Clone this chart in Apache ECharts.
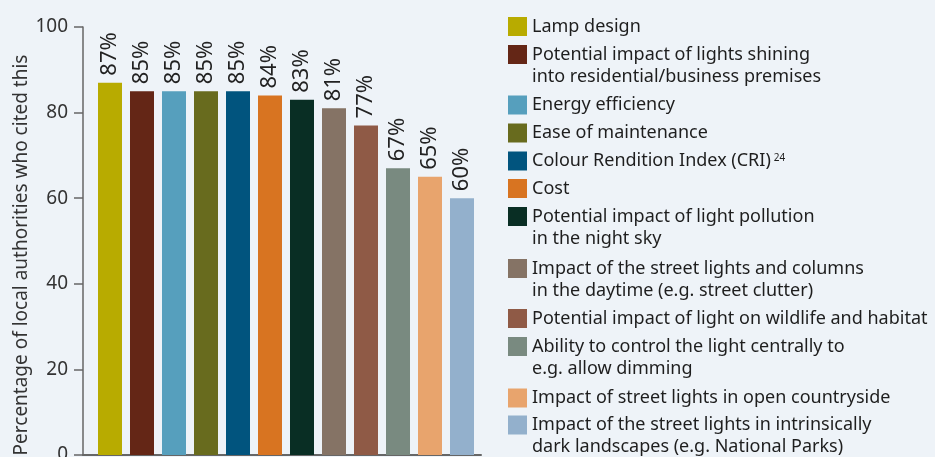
<!DOCTYPE html>
<html>
<head>
<meta charset="utf-8">
<script src="https://cdn.jsdelivr.net/npm/echarts@6/dist/echarts.min.js"></script>
<style>
  html, body { margin: 0; padding: 0; background: #eef3f8; }
  #chart { width: 935px; height: 457px; }
</style>
</head>
<body>
<div id="chart"></div>
<script>
// data
const categories = [
  'Lamp design',
  'Potential impact of lights shining\ninto residential/business premises',
  'Energy efficiency',
  'Ease of maintenance',
  'Colour Rendition Index (CRI)',
  'Cost',
  'Potential impact of light pollution\nin the night sky',
  'Impact of the street lights and columns\nin the daytime (e.g. street clutter)',
  'Potential impact of light on wildlife and habitat',
  'Ability to control the light centrally to\ne.g. allow dimming',
  'Impact of street lights in open countryside',
  'Impact of the street lights in intrinsically\ndark landscapes (e.g. National Parks)'
];
const values = [87, 85, 85, 85, 85, 84, 83, 81, 77, 67, 65, 60];
const footnotes = ['', '', '', '', '24', '', '', '', '', '', '', ''];
const yMin = 0, yMax = 100, yStep = 20;
const yTitle = 'Percentage of local authorities who cited this';

const colors = ['#b8ab00', '#642616', '#569fbd', '#686b1e', '#01547e', '#d87421',
                '#092e24', '#857365', '#8f5a46', '#798a80', '#e8a46d', '#93b0cc'];

const font = '"Noto Sans", sans-serif';
const chart = echarts.init(document.getElementById('chart'));

// vertical centre of each legend swatch
const legendCentres = [26.5, 54.5, 105, 133, 161, 188.5, 216.5, 268.5, 318.5, 346.5, 398, 425];

const legends = categories.map((name, i) => {
  const multi = name.indexOf('\n') >= 0;
  return {
    data: [name],
    orient: 'vertical',
    left: 508,
    top: legendCentres[i] - (multi ? 33 : 11),
    padding: 0,
    itemWidth: 19,
    itemHeight: 19,
    icon: 'rect',
    selectedMode: false,
    formatter: n => (multi ? '\n' : '') + n + (footnotes[i] ? '{sup|' + footnotes[i] + '}' : ''),
    textStyle: {
      fontFamily: font,
      fontSize: 18,
      color: '#1e1e1e',
      lineHeight: 22,
      rich: {
        sup: { fontFamily: font, fontSize: 10, color: '#1e1e1e', verticalAlign: 'top', lineHeight: 22, padding: [3, 0, 0, 3] }
      }
    }
  };
});

const series = categories.map((name, i) => ({
  type: 'bar',
  name: name,
  barWidth: 24,
  barGap: '-100%',
  itemStyle: { color: colors[i] },
  data: [[i, values[i]]],
  label: {
    show: true,
    position: 'top',
    rotate: 90,
    align: 'left',
    verticalAlign: 'middle',
    distance: 7,
    fontFamily: font,
    fontSize: 22,
    color: '#222',
    formatter: p => p.value[1] + '%'
  }
}));

const option = {
  backgroundColor: '#eef3f8',
  animation: false,
  legend: legends,
  grid: { left: 83, right: 454, top: 27, bottom: 2, outerBoundsMode: 'none', containLabel: false },
  xAxis: {
    type: 'value',
    min: -0.84375,
    max: 11.59375,
    axisLine: { show: true, lineStyle: { color: '#666', width: 2 } },
    axisTick: { show: false },
    axisLabel: { show: false },
    splitLine: { show: false }
  },
  yAxis: {
    type: 'value',
    min: yMin,
    max: yMax,
    interval: yStep,
    name: yTitle,
    nameLocation: 'middle',
    nameGap: 52,
    nameTextStyle: { fontFamily: font, fontSize: 19, color: '#333', padding: [0, 28, 0, 0] },
    axisLine: { show: true, onZero: false, lineStyle: { color: '#666', width: 1.5 } },
    axisTick: { show: true, length: 9, lineStyle: { color: '#666', width: 1.5 } },
    axisLabel: { fontFamily: font, fontSize: 19, color: '#333', margin: 15 },
    splitLine: { show: false }
  },
  series: series
};

chart.setOption(option);
window.addEventListener('resize', () => chart.resize());
</script>
</body>
</html>
